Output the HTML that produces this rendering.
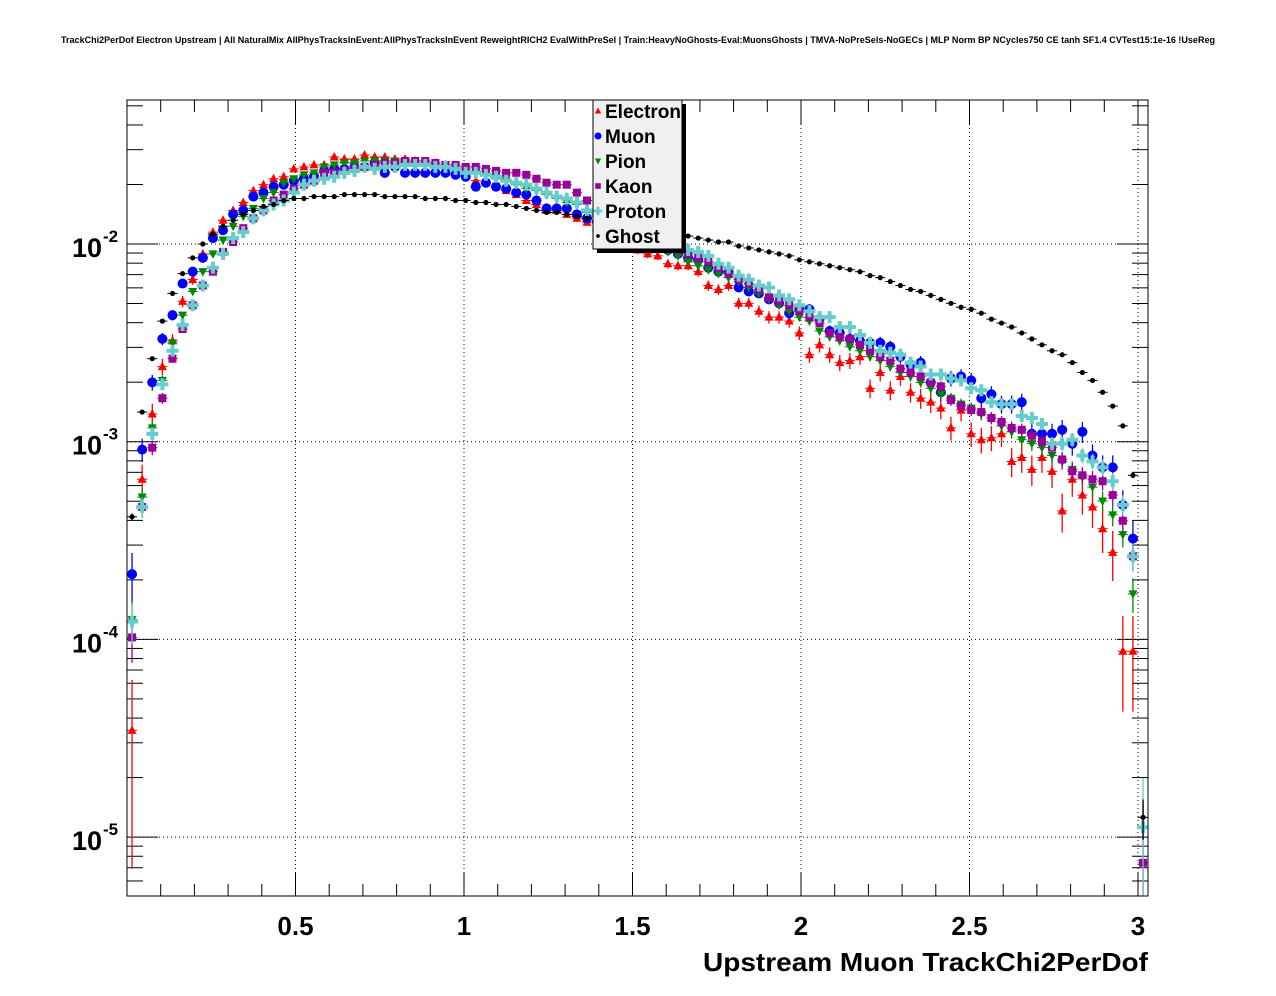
<!DOCTYPE html>
<html><head><meta charset="utf-8"><style>
html,body{margin:0;padding:0;background:#fff;width:1276px;height:996px;overflow:hidden;}
svg{display:block;font-family:"Liberation Sans",Arial,sans-serif;}
</style></head><body>
<svg id="chart" width="1276" height="996" viewBox="0 0 1276 996" xmlns="http://www.w3.org/2000/svg">
<rect x="0" y="0" width="1276" height="996" fill="#fff"/>
<text x="61" y="43" font-size="9.5" font-weight="bold" textLength="1154" lengthAdjust="spacingAndGlyphs">TrackChi2PerDof Electron Upstream | All NaturalMix AllPhysTracksInEvent:AllPhysTracksInEvent ReweightRICH2 EvalWithPreSel | Train:HeavyNoGhosts-Eval:MuonsGhosts | TMVA-NoPreSels-NoGECs | MLP Norm BP NCycles750 CE tanh SF1.4 CVTest15:1e-16 !UseReg</text>
<g id="grid"></g>
<g id="axes"></g>
<defs><clipPath id="clip"><rect x="127" y="100" width="1021" height="796"/></clipPath></defs>
<g id="marks" clip-path="url(#clip)"></g>
<rect x="127" y="100" width="1021" height="796" fill="none" stroke="#000" stroke-width="1"/>
<g id="legend"></g>
<text x="703" y="971" font-size="26" font-weight="bold" textLength="445" lengthAdjust="spacingAndGlyphs">Upstream Muon TrackChi2PerDof</text>
</svg>
<script>
const binWidth = 0.03;
const electronLog10 = [-4.46,-3.19,-2.86,-2.62,-2.49,-2.29,-2.18,-2.05,-1.94,-1.88,-1.83,-1.79,-1.73,-1.70,-1.67,-1.66,-1.62,-1.61,-1.60,-1.60,-1.56,-1.57,-1.57,-1.55,-1.56,-1.56,-1.57,-1.57,-1.58,-1.59,-1.59,-1.60,-1.62,-1.64,-1.68,-1.69,-1.71,-1.73,-1.75,-1.78,-1.80,-1.83,-1.83,-1.85,-1.87,-1.89,-1.93,-1.96,-1.98,-2.01,-2.03,-2.05,-2.06,-2.10,-2.11,-2.11,-2.14,-2.21,-2.23,-2.21,-2.30,-2.30,-2.34,-2.37,-2.37,-2.39,-2.45,-2.56,-2.51,-2.56,-2.60,-2.59,-2.57,-2.73,-2.65,-2.74,-2.67,-2.75,-2.78,-2.80,-2.83,-2.93,-2.84,-2.96,-2.99,-2.98,-2.96,-3.10,-3.08,-3.14,-3.08,-3.15,-3.35,-3.19,-3.27,-3.33,-3.44,-3.56,-4.06,-4.06,null];
const muonLog10 = [-3.67,-3.04,-2.70,-2.48,-2.36,-2.20,-2.14,-2.07,-1.97,-1.93,-1.85,-1.83,-1.76,-1.74,-1.71,-1.70,-1.68,-1.67,-1.66,-1.63,-1.62,-1.62,-1.61,-1.61,-1.59,-1.64,-1.61,-1.64,-1.64,-1.64,-1.64,-1.64,-1.65,-1.66,-1.71,-1.69,-1.71,-1.72,-1.74,-1.75,-1.78,-1.82,-1.82,-1.82,-1.85,-1.87,-1.89,-1.91,-1.93,-1.95,-1.97,-1.99,-2.01,-2.03,-2.05,-2.07,-2.08,-2.12,-2.14,-2.14,-2.22,-2.24,-2.25,-2.28,-2.30,-2.35,-2.33,-2.33,-2.38,-2.44,-2.45,-2.48,-2.49,-2.50,-2.50,-2.52,-2.57,-2.61,-2.60,-2.70,-2.75,-2.68,-2.67,-2.69,-2.78,-2.76,-2.81,-2.81,-2.80,-2.96,-2.96,-2.96,-2.94,-3.01,-2.95,-3.07,-3.13,-3.13,-3.32,-3.49,null];
const pionLog10 = [-3.90,-3.28,-2.93,-2.69,-2.50,-2.36,-2.24,-2.14,-2.05,-1.98,-1.91,-1.86,-1.82,-1.77,-1.74,-1.69,-1.67,-1.65,-1.64,-1.61,-1.60,-1.59,-1.59,-1.58,-1.58,-1.58,-1.58,-1.59,-1.59,-1.59,-1.60,-1.60,-1.61,-1.62,-1.63,-1.65,-1.67,-1.68,-1.70,-1.72,-1.73,-1.75,-1.77,-1.79,-1.80,-1.84,-1.86,-1.88,-1.91,-1.93,-1.96,-1.98,-2.01,-2.04,-2.06,-2.09,-2.11,-2.13,-2.15,-2.17,-2.19,-2.22,-2.25,-2.28,-2.31,-2.34,-2.37,-2.39,-2.44,-2.47,-2.49,-2.52,-2.54,-2.57,-2.59,-2.62,-2.65,-2.67,-2.70,-2.73,-2.76,-2.78,-2.81,-2.83,-2.86,-2.88,-2.92,-2.95,-2.99,-3.01,-3.03,-3.07,-3.10,-3.14,-3.18,-3.23,-3.30,-3.37,-3.47,-3.77,null];
const kaonLog10 = [-3.99,-3.33,-3.03,-2.78,-2.58,-2.43,-2.31,-2.21,-2.14,-2.04,-1.99,-1.92,-1.87,-1.83,-1.78,-1.75,-1.72,-1.70,-1.68,-1.64,-1.64,-1.63,-1.62,-1.61,-1.60,-1.59,-1.59,-1.58,-1.58,-1.58,-1.59,-1.60,-1.60,-1.61,-1.61,-1.62,-1.63,-1.64,-1.64,-1.65,-1.67,-1.69,-1.70,-1.70,-1.74,-1.78,-1.83,-1.85,-1.88,-1.90,-1.93,-1.95,-1.98,-2.01,-2.03,-2.05,-2.07,-2.09,-2.12,-2.15,-2.18,-2.20,-2.23,-2.27,-2.29,-2.31,-2.34,-2.37,-2.40,-2.45,-2.47,-2.48,-2.51,-2.54,-2.57,-2.59,-2.63,-2.65,-2.67,-2.70,-2.72,-2.79,-2.82,-2.84,-2.85,-2.88,-2.90,-2.93,-2.94,-2.97,-3.00,-3.03,-3.09,-3.15,-3.17,-3.19,-3.20,-3.27,-3.40,-3.58,-5.13];
const protonLog10 = [-3.91,-3.33,-2.96,-2.71,-2.54,-2.41,-2.31,-2.21,-2.12,-2.05,-1.97,-1.94,-1.87,-1.83,-1.80,-1.78,-1.74,-1.70,-1.68,-1.67,-1.66,-1.64,-1.63,-1.61,-1.62,-1.61,-1.61,-1.60,-1.60,-1.60,-1.61,-1.61,-1.62,-1.64,-1.64,-1.65,-1.66,-1.68,-1.69,-1.70,-1.72,-1.74,-1.76,-1.77,-1.79,-1.83,-1.85,-1.87,-1.89,-1.91,-1.93,-1.95,-1.97,-1.99,-2.01,-2.03,-2.04,-2.06,-2.10,-2.12,-2.16,-2.18,-2.21,-2.22,-2.26,-2.28,-2.31,-2.34,-2.37,-2.37,-2.42,-2.42,-2.46,-2.50,-2.54,-2.55,-2.56,-2.60,-2.62,-2.66,-2.66,-2.68,-2.69,-2.73,-2.74,-2.80,-2.81,-2.81,-2.87,-2.88,-2.91,-3.01,-3.01,-2.99,-3.07,-3.10,-3.13,-3.20,-3.32,-3.58,-4.95];
const ghostLog10 = [-3.38,-2.85,-2.58,-2.39,-2.25,-2.15,-2.07,-2.00,-1.95,-1.91,-1.88,-1.85,-1.83,-1.81,-1.80,-1.78,-1.77,-1.77,-1.76,-1.76,-1.76,-1.75,-1.75,-1.75,-1.75,-1.76,-1.76,-1.76,-1.76,-1.77,-1.77,-1.77,-1.78,-1.78,-1.79,-1.79,-1.80,-1.80,-1.81,-1.82,-1.83,-1.84,-1.84,-1.85,-1.86,-1.87,-1.88,-1.89,-1.90,-1.91,-1.92,-1.93,-1.93,-1.94,-1.95,-1.96,-1.97,-1.98,-1.99,-1.99,-2.01,-2.02,-2.03,-2.04,-2.05,-2.06,-2.08,-2.09,-2.10,-2.11,-2.12,-2.13,-2.14,-2.16,-2.17,-2.19,-2.21,-2.23,-2.24,-2.26,-2.28,-2.30,-2.32,-2.33,-2.35,-2.38,-2.40,-2.42,-2.45,-2.48,-2.51,-2.54,-2.56,-2.60,-2.65,-2.69,-2.75,-2.82,-2.92,-3.17,-4.90];
const xTickLabels = ["0.5","1","1.5","2","2.5","3"];
const xTickValues = [0.5,1,1.5,2,2.5,3];
const yDecades = [-2,-3,-4,-5];

const NS = "http://www.w3.org/2000/svg";
const X0 = 127, XS = 337, YREF = 244, YS = 197.7;
function xScale(v){ return X0 + v*XS; }
function yScale(lg){ return YREF - (lg + 2)*YS; }
function mk(tag, attrs, parent){ const e = document.createElementNS(NS, tag); for (const k in attrs) e.setAttribute(k, attrs[k]); parent.appendChild(e); return e; }

const grid = document.getElementById('grid');
const axes = document.getElementById('axes');
const marks = document.getElementById('marks');
const legend = document.getElementById('legend');

xTickValues.forEach((v,i)=>{
  const l = mk('line',{x1:xScale(v),x2:xScale(v),y1:100,y2:896,stroke:'#000','stroke-width':1,'stroke-dasharray':'1,3'},grid);
  
  
});
yDecades.forEach(d=>{
  const l = mk('line',{x1:127,x2:1148,y1:yScale(d),y2:yScale(d),stroke:'#000','stroke-width':1,'stroke-dasharray':'1,3'},grid);
  
  
});
for (let i=1;i<=30;i++){
  const v=i*0.1, major=(i%5===0), len=major?24:12;
  const px=xScale(v);
  mk('line',{x1:px,x2:px,y1:896,y2:896-len,stroke:'#000','stroke-width':1},axes);
  mk('line',{x1:px,x2:px,y1:100,y2:100+len,stroke:'#000','stroke-width':1},axes);
}
xTickValues.forEach((v,i)=>{
  const t = mk('text',{x:xScale(v),y:935,'font-size':26,'font-weight':'bold','text-anchor':'middle'},axes);
  t.textContent = xTickLabels[i];
  
  
});
for (let d=-6; d<=-1; d++){
  for (let m=1;m<=9;m++){
    const lg = d + Math.log10(m);
    const py = yScale(lg);
    if (py<100 || py>896) continue;
    const len = (m===1)?31:16;
    mk('line',{x1:127,x2:127+len,y1:py,y2:py,stroke:'#000','stroke-width':1},axes);
    mk('line',{x1:1148,x2:1148-len,y1:py,y2:py,stroke:'#000','stroke-width':1},axes);
  }
}
yDecades.forEach(d=>{
  const py=yScale(d);
  const t = mk('text',{x:72,y:py+13,'font-size':27,'font-weight':'bold'},axes);
  t.textContent='10';
  
  
  const s = mk('text',{x:103,y:py-2,'font-size':17,'font-weight':'bold'},axes);
  s.textContent=String(d);
  
  
});

function marker(g, type, cx, cy, color, scale){
  const s = scale||1;
  if (type==='tri-up') mk('polygon',{points:`${cx},${cy-5*s} ${cx-4.5*s},${cy+3.5*s} ${cx+4.5*s},${cy+3.5*s}`,fill:color},g);
  else if (type==='tri-down') mk('polygon',{points:`${cx},${cy+5*s} ${cx-4.5*s},${cy-3.5*s} ${cx+4.5*s},${cy-3.5*s}`,fill:color},g);
  else if (type==='circle') mk('circle',{cx:cx,cy:cy,r:5*s,fill:color},g);
  else if (type==='square') mk('rect',{x:cx-4*s,y:cy-4*s,width:8*s,height:8*s,fill:color},g);
  else if (type==='plus'){ mk('rect',{x:cx-6*s,y:cy-2*s,width:12*s,height:4*s,fill:color},g); mk('rect',{x:cx-2*s,y:cy-6*s,width:4*s,height:12*s,fill:color},g); }
  else if (type==='dot') mk('circle',{cx:cx,cy:cy,r:2.6*s,fill:color},g);
}

const series = [
  {name:'Electron', vals:electronLog10, color:'#ff0000', type:'tri-up', stat:45000},
  {name:'Muon', vals:muonLog10, color:'#0000ff', type:'circle', stat:60000},
  {name:'Pion', vals:pionLog10, color:'#008800', type:'tri-down', stat:150000},
  {name:'Kaon', vals:kaonLog10, color:'#990099', type:'square', stat:150000},
  {name:'Proton', vals:protonLog10, color:'#66cccc', type:'plus', stat:150000},
  {name:'Ghost', vals:ghostLog10, color:'#000000', type:'dot', stat:1500000}
];
series.forEach(sr=>{
  const g = mk('g',{},marks);
  
  
  sr.vals.forEach((lg,k)=>{
    if (lg===null) return;
    const xc = (k+0.5)*binWidth;
    const cx = xScale(xc), cy = yScale(lg);
    const v = Math.pow(10,lg);
    const rel = 1/Math.sqrt(v*sr.stat);
    const up = yScale(Math.log10(v*(1+rel)));
    const dn = rel<0.98 ? yScale(Math.log10(v*(1-rel))) : 896;
    const pg = mk('g',{},g);
    
    
    mk('line',{x1:xScale(k*binWidth),x2:xScale((k+1)*binWidth),y1:cy,y2:cy,stroke:sr.color,'stroke-width':1},pg);
    mk('line',{x1:cx,x2:cx,y1:up,y2:Math.min(dn,896),stroke:sr.color,'stroke-width':1.3},pg);
    marker(pg, sr.type, cx, cy, sr.color, 1);
  });
});

mk('rect',{x:597,y:104,width:89,height:149,fill:'#000'},legend);
const lb = mk('rect',{x:593,y:100,width:89,height:149,fill:'#f0f0f0',stroke:'#000','stroke-width':1},legend);


series.forEach((sr,i)=>{
  const y = 111 + i*25;
  const eg = mk('g',{},legend);
  
  
  marker(eg, sr.type, 598, y, sr.color, 0.7);
  const t = mk('text',{x:605,y:y+7,'font-size':19,'font-weight':'bold'},eg);
  t.textContent = sr.name;
});
</script>
</body></html>
